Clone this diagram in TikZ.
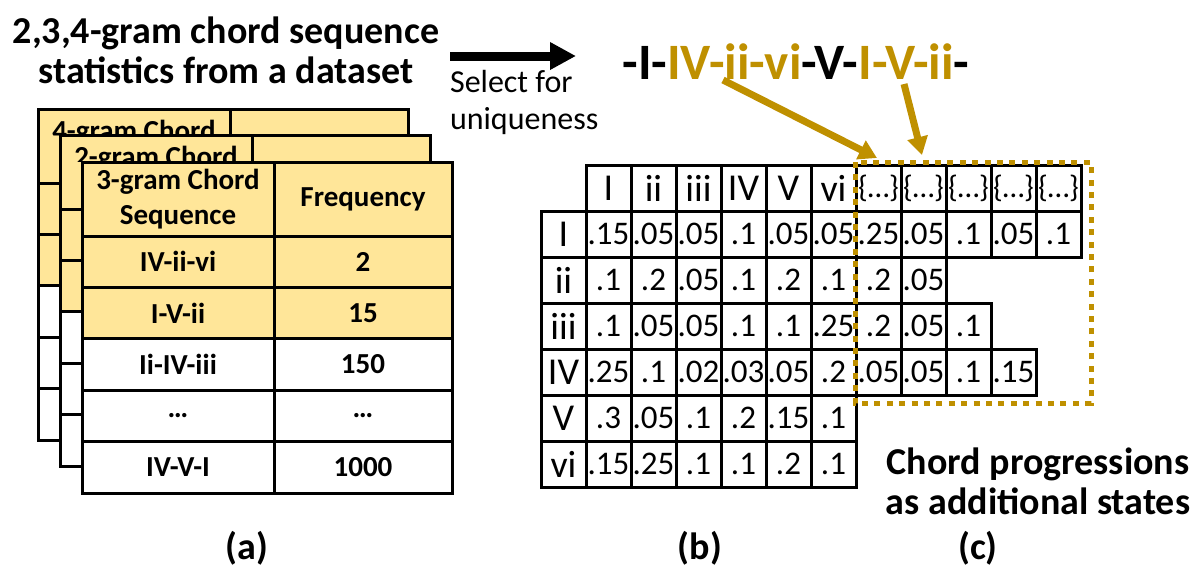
\documentclass[tikz,border=0pt]{standalone}
\usepackage{fontspec}
\setmainfont{Carlito}
\usetikzlibrary{arrows.meta}

\definecolor{gold}{HTML}{BF9000}
\definecolor{lightgold}{HTML}{FFE699}

\tikzset{
	tcell/.style={draw, line width=1.5pt, fill=white, inner sep=0pt, align=center, font=\fontsize{14.5}{17.5}\selectfont\bfseries},
	thead/.style={tcell, minimum height=37pt, fill=lightgold},
	trow/.style={tcell, minimum height=25.7pt},
	hl/.style={fill=lightgold},
	colA/.style={minimum width=96pt},
	colB/.style={minimum width=89pt},
	backname/.style={anchor=base, inner sep=0pt, text depth=0pt, font=\fontsize{14.5}{17.5}\selectfont\bfseries},
	mcell/.style={draw, line width=1.5pt, inner sep=0pt, minimum width=22.5pt, minimum height=23pt, font=\fontsize{16.5}{18}\selectfont},
	mlab/.style={mcell, font=\fontsize{19}{20}\selectfont},
	mset/.style={mcell, font=\fontsize{15.5}{16}\selectfont},
	goldarrow/.style={gold, line width=3.5pt, -{Triangle[width=10pt,length=9pt]}},
	caption/.style={font=\fontsize{19}{20}\selectfont\bfseries, align=center}
}

\begin{document}
\begin{tikzpicture}[x=0.5pt, y=-0.5pt]

	\useasboundingbox (0,0) rectangle (1199,575);

	\node[caption] (title) at (226,50) {2,3,4-gram chord sequence\\statistics from a dataset};
	\node[align=left, anchor=west, font=\fontsize{16}{18.5}\selectfont] (select) at (443,102) {Select for\\uniqueness};
	\node[font=\fontsize{25.5}{28}\selectfont\bfseries] (seq) at (796,62) {-I-\textcolor{gold}{IV-ii-vi}-V-\textcolor{gold}{I-V-ii}-};

	\coordinate (selA) at (450,56);
	\coordinate (selB) at (576,56);
	\draw[line width=4.5pt, -{Triangle[width=13pt,length=13pt]}] (selA) -- (selB);

	% 4-gram table (back)
	\node[thead, colA] (g4h1) at (134,146) {};
	\node[thead, colB] (g4h2) at (319,146) {};
	\node[trow, colA, hl] (g4r1c1) at (134,208.7) {};
	\node[trow, colB, hl] (g4r1c2) at (319,208.7) {};
	\node[trow, colA, hl] (g4r2c1) at (134,260.1) {};
	\node[trow, colB, hl] (g4r2c2) at (319,260.1) {};
	\node[trow, colA] (g4r3c1) at (134,311.5) {};
	\node[trow, colB] (g4r3c2) at (319,311.5) {};
	\node[trow, colA] (g4r4c1) at (134,362.9) {};
	\node[trow, colB] (g4r4c2) at (319,362.9) {};
	\node[trow, colA] (g4r5c1) at (134,414.3) {};
	\node[trow, colB] (g4r5c2) at (319,414.3) {};
	\begin{scope}
		\clip (40,111) rectangle (228,135);
		\node[backname] (g4name) at (134,140) {4-gram Chord};
	\end{scope}

	% 2-gram table (middle)
	\node[thead, colA] (g2h1) at (156,172) {};
	\node[thead, colB] (g2h2) at (341,172) {};
	\node[trow, colA, hl] (g2r1c1) at (156,234.7) {};
	\node[trow, colB, hl] (g2r1c2) at (341,234.7) {};
	\node[trow, colA, hl] (g2r2c1) at (156,286.1) {};
	\node[trow, colB, hl] (g2r2c2) at (341,286.1) {};
	\node[trow, colA] (g2r3c1) at (156,337.5) {};
	\node[trow, colB] (g2r3c2) at (341,337.5) {};
	\node[trow, colA] (g2r4c1) at (156,388.9) {};
	\node[trow, colB] (g2r4c2) at (341,388.9) {};
	\node[trow, colA] (g2r5c1) at (156,440.3) {};
	\node[trow, colB] (g2r5c2) at (341,440.3) {};
	\begin{scope}
		\clip (62,137) rectangle (250,161);
		\node[backname] (g2name) at (156,166) {2-gram Chord};
	\end{scope}

	% 3-gram table (front)
	\node[thead, colA] (g3h1) at (178,199) {3-gram Chord\\Sequence};
	\node[thead, colB] (g3h2) at (363,199) {Frequency};
	\node[trow, colA, hl] (g3r1c1) at (178,261.7) {IV-ii-vi};
	\node[trow, colB, hl] (g3r1c2) at (363,261.7) {2};
	\node[trow, colA, hl] (g3r2c1) at (178,313.1) {I-V-ii};
	\node[trow, colB, hl] (g3r2c2) at (363,313.1) {15};
	\node[trow, colA] (g3r3c1) at (178,364.5) {Ii-IV-iii};
	\node[trow, colB] (g3r3c2) at (363,364.5) {150};
	\node[trow, colA] (g3r4c1) at (178,415.9) {…};
	\node[trow, colB] (g3r4c2) at (363,415.9) {…};
	\node[trow, colA] (g3r5c1) at (178,467.3) {IV-V-I};
	\node[trow, colB] (g3r5c2) at (363,467.3) {1000};

	% transition matrix
	\node[mlab] (cI) at (608.5,188) {I};
	\node[mlab] (cii) at (653.5,188) {ii};
	\node[mlab] (ciii) at (698.5,188) {iii};
	\node[mlab] (cIV) at (743.5,188) {IV};
	\node[mlab] (cV) at (788.5,188) {V};
	\node[mlab] (cvi) at (833.5,188) {vi};
	\node[mset] (e1) at (878.5,188) {\{…\}};
	\node[mset] (e2) at (923.5,188) {\{…\}};
	\node[mset] (e3) at (968.5,188) {\{…\}};
	\node[mset] (e4) at (1013.5,188) {\{…\}};
	\node[mset] (e5) at (1058.5,188) {\{…\}};

	\node[mlab] (rI) at (563.5,234) {I};
	\node[mlab] (rii) at (563.5,280) {ii};
	\node[mlab] (riii) at (563.5,326) {iii};
	\node[mlab] (rIV) at (563.5,372) {IV};
	\node[mlab] (rV) at (563.5,418) {V};
	\node[mlab] (rvi) at (563.5,464) {vi};

	\node[mcell] (m11) at (608.5,234) {.15};
	\node[mcell] (m12) at (653.5,234) {.05};
	\node[mcell] (m13) at (698.5,234) {.05};
	\node[mcell] (m14) at (743.5,234) {.1};
	\node[mcell] (m15) at (788.5,234) {.05};
	\node[mcell] (m16) at (833.5,234) {.05};
	\node[mcell] (n11) at (878.5,234) {.25};
	\node[mcell] (n12) at (923.5,234) {.05};
	\node[mcell] (n13) at (968.5,234) {.1};
	\node[mcell] (n14) at (1013.5,234) {.05};
	\node[mcell] (n15) at (1058.5,234) {.1};

	\node[mcell] (m21) at (608.5,280) {.1};
	\node[mcell] (m22) at (653.5,280) {.2};
	\node[mcell] (m23) at (698.5,280) {.05};
	\node[mcell] (m24) at (743.5,280) {.1};
	\node[mcell] (m25) at (788.5,280) {.2};
	\node[mcell] (m26) at (833.5,280) {.1};
	\node[mcell] (n21) at (878.5,280) {.2};
	\node[mcell] (n22) at (923.5,280) {.05};

	\node[mcell] (m31) at (608.5,326) {.1};
	\node[mcell] (m32) at (653.5,326) {.05};
	\node[mcell] (m33) at (698.5,326) {.05};
	\node[mcell] (m34) at (743.5,326) {.1};
	\node[mcell] (m35) at (788.5,326) {.1};
	\node[mcell] (m36) at (833.5,326) {.25};
	\node[mcell] (n31) at (878.5,326) {.2};
	\node[mcell] (n32) at (923.5,326) {.05};
	\node[mcell] (n33) at (968.5,326) {.1};

	\node[mcell] (m41) at (608.5,372) {.25};
	\node[mcell] (m42) at (653.5,372) {.1};
	\node[mcell] (m43) at (698.5,372) {.02};
	\node[mcell] (m44) at (743.5,372) {.03};
	\node[mcell] (m45) at (788.5,372) {.05};
	\node[mcell] (m46) at (833.5,372) {.2};
	\node[mcell] (n41) at (878.5,372) {.05};
	\node[mcell] (n42) at (923.5,372) {.05};
	\node[mcell] (n43) at (968.5,372) {.1};
	\node[mcell] (n44) at (1013.5,372) {.15};

	\node[mcell] (m51) at (608.5,418) {.3};
	\node[mcell] (m52) at (653.5,418) {.05};
	\node[mcell] (m53) at (698.5,418) {.1};
	\node[mcell] (m54) at (743.5,418) {.2};
	\node[mcell] (m55) at (788.5,418) {.15};
	\node[mcell] (m56) at (833.5,418) {.1};

	\node[mcell] (m61) at (608.5,464) {.15};
	\node[mcell] (m62) at (653.5,464) {.25};
	\node[mcell] (m63) at (698.5,464) {.1};
	\node[mcell] (m64) at (743.5,464) {.1};
	\node[mcell] (m65) at (788.5,464) {.2};
	\node[mcell] (m66) at (833.5,464) {.1};

	% added states
	\draw[gold, line width=2.5pt, dash pattern=on 3pt off 3.2pt] (855,162) rectangle (1091,403);

	\coordinate (seqA) at (723,80);
	\coordinate (boxA) at (877,158);
	\coordinate (seqB) at (904,84);
	\coordinate (boxB) at (922,155);
	\draw[goldarrow] (seqA) -- (boxA);
	\draw[goldarrow] (seqB) -- (boxB);

	\node[caption] (note) at (1038,481) {Chord progressions\\as additional states};

	\node[caption] (la) at (247,548) {(a)};
	\node[caption] (lb) at (700,548) {(b)};
	\node[caption] (lc) at (978,548) {(c)};

\end{tikzpicture}
\end{document}
